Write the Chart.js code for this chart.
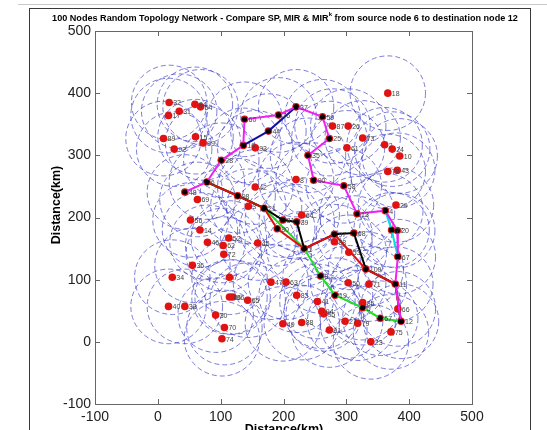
<!DOCTYPE html>
<html>
<head>
<meta charset="utf-8">
<script src="https://cdn.jsdelivr.net/npm/chart.js@4.4.0/dist/chart.umd.min.js"></script>
<style>
html, body { margin: 0; padding: 0; background: #fff; }
</style>
</head>
<body>
<canvas id="myChart" width="547" height="430"></canvas>
<script>
// node ids and positions (km)
const nodeIds = [32, 84, 54, 17, 31, 89, 15, 99, 92, 60, 76, 44, 16, 93, 28, 6, 48, 42, 69, 98,
  3, 21, 81, 39, 80, 56, 14, 46, 52, 62, 72, 45, 36, 34, 7, 47, 63, 40, 33, 86,
  96, 65, 30, 49, 70, 74, 83, 41, 94, 95, 85, 88, 27, 79, 91, 75, 23, 12, 66, 11,
  67, 71, 50, 9, 19, 5, 57, 1, 8, 90, 58, 13, 4, 20, 77, 29, 97, 68, 100, 53,
  38, 18, 37, 59, 87, 26, 25, 73, 61, 2, 24, 10, 35, 78, 43, 64];
const nodeX = [18, 59, 68, 17, 34, 9, 60, 72, 26, 138, 192, 176, 136, 155, 101, 78, 43, 155, 63, 127,
  144, 169, 199, 221, 190, 52, 67, 79, 113, 104, 105, 159, 55, 23, 114, 180, 204, 17, 43, 114,
  119, 143, 92, 199, 106, 102, 221, 254, 261, 264, 326, 229, 298, 318, 273, 371, 339, 387, 382, 378,
  382, 336, 303, 259, 282, 326, 354, 233, 220, 248, 296, 317, 362, 381, 372, 379, 281, 312, 331, 304,
  281, 366, 220, 262, 278, 303, 273, 326, 301, 361, 373, 385, 239, 366, 381, 229];
const nodeY = [385, 382, 378, 364, 371, 327, 330, 320, 310, 358, 365, 339, 316, 312, 292, 257, 241, 249, 229, 235,
  218, 215, 196, 193, 182, 196, 180, 160, 167, 155, 141, 159, 123, 104, 104, 96, 96, 57, 57, 72,
  72, 67, 43, 29, 23, 5, 75, 65, 49, 45, 63, 31, 33, 30, 19, 16, 0, 33, 53, 93,
  137, 93, 95, 106, 75, 55, 38, 150, 261, 260, 251, 206, 211, 179, 180, 220, 173, 175, 117, 144,
  161, 400, 378, 362, 347, 347, 327, 328, 312, 317, 310, 299, 300, 274, 276, 204];
const radioRange = 60;

// routes as node id lists
const pathGreen = [6, 98, 21, 1, 9, 19, 5, 57, 12];
const pathRed = [6, 98, 21, 80, 1, 97, 100, 11, 12];
const pathBlack = [6, 98, 21, 81, 39, 1, 97, 68, 100, 11, 12];
const pathCyan = [4, 77, 67];
const pathBlue = [16, 44, 37];
const pathMagenta = [48, 6, 28, 16, 60, 76, 37, 59, 25, 35, 90, 58, 13, 4, 20, 67, 11, 12];

const tickValues = [-100, 0, 100, 200, 300, 400, 500];

const FONT = '"Liberation Sans", Arial, sans-serif';

function pts(ids) {
  return ids.map(id => {
    const i = nodeIds.indexOf(id);
    return { x: nodeX[i], y: nodeY[i] };
  });
}

function route(ids, color, order) {
  return {
    type: 'line',
    data: pts(ids),
    borderColor: color,
    borderWidth: 2,
    pointRadius: 2.6,
    pointBackgroundColor: '#000',
    pointBorderColor: '#000',
    pointBorderWidth: 0,
    tension: 0,
    order: order
  };
}

const circles = {
  id: 'circles',
  beforeDatasetsDraw(chart) {
    const c = chart.ctx, xs = chart.scales.x, ys = chart.scales.y;
    c.save();
    c.setLineDash([5, 3]);
    c.strokeStyle = 'rgba(60, 60, 200, 0.75)';
    c.lineWidth = 0.9;
    for (let i = 0; i < nodeIds.length; i++) {
      const cx = xs.getPixelForValue(nodeX[i]);
      const cy = ys.getPixelForValue(nodeY[i]);
      const rx = xs.getPixelForValue(nodeX[i] + radioRange) - cx;
      const ry = cy - ys.getPixelForValue(nodeY[i] + radioRange);
      c.beginPath();
      c.ellipse(cx, cy, rx, ry, 0, 0, Math.PI * 2);
      c.stroke();
    }
    c.restore();
  }
};

const decor = {
  id: 'decor',
  afterDatasetsDraw(chart) {
    const c = chart.ctx, xs = chart.scales.x, ys = chart.scales.y;
    c.save();
    c.font = '7px ' + FONT;
    c.fillStyle = '#444';
    c.textBaseline = 'middle';
    for (let i = 0; i < nodeIds.length; i++) {
      c.fillText(String(nodeIds[i]), xs.getPixelForValue(nodeX[i]) + 4, ys.getPixelForValue(nodeY[i]) + 1);
    }
    c.restore();
  },
  afterDraw(chart) {
    const c = chart.ctx, a = chart.chartArea, xs = chart.scales.x, ys = chart.scales.y;
    c.save();
    // page rules
    c.strokeStyle = '#c8c8c8';
    c.lineWidth = 1;
    c.beginPath(); c.moveTo(18, 4.5); c.lineTo(547, 4.5); c.stroke();
    c.strokeStyle = '#3a3a3a';
    c.strokeRect(29.5, 8.5, 501, 440);
    // axes box + inward ticks
    c.strokeStyle = '#666';
    c.strokeRect(a.left + 0.5, a.top + 0.5, a.right - a.left, a.bottom - a.top);
    c.beginPath();
    tickValues.forEach(v => {
      const px = Math.round(xs.getPixelForValue(v)) + 0.5;
      c.moveTo(px, a.bottom); c.lineTo(px, a.bottom - 5);
      c.moveTo(px, a.top); c.lineTo(px, a.top + 5);
      const py = Math.round(ys.getPixelForValue(v)) + 0.5;
      c.moveTo(a.left, py); c.lineTo(a.left + 5, py);
      c.moveTo(a.right, py); c.lineTo(a.right - 5, py);
    });
    c.stroke();
    // title with superscript k
    c.fillStyle = '#000';
    c.textBaseline = 'alphabetic';
    const t1 = '100 Nodes Random Topology Network - Compare SP, MIR & MIR';
    const t2 = ' from source node 6 to destination node 12';
    c.font = 'bold 9.1px ' + FONT;
    const w1 = c.measureText(t1).width, w3 = c.measureText(t2).width;
    c.font = 'bold 6px ' + FONT;
    const w2 = c.measureText('k').width;
    let x0 = 285 - (w1 + w2 + w3) / 2;
    c.font = 'bold 9.1px ' + FONT;
    c.fillText(t1, x0, 21);
    c.font = 'bold 6px ' + FONT;
    c.fillText('k', x0 + w1, 16);
    c.font = 'bold 9.1px ' + FONT;
    c.fillText(t2, x0 + w1 + w2, 21);
    // axis titles
    c.font = 'bold 12.5px ' + FONT;
    c.textAlign = 'center';
    c.textBaseline = 'top';
    c.fillText('Distance(km)', 284, 423);
    c.translate(57, 205);
    c.rotate(-Math.PI / 2);
    c.textBaseline = 'middle';
    c.fillText('Distance(km)', 0, 0);
    c.restore();
  }
};

const myChart = new Chart(document.getElementById('myChart').getContext('2d'), {
  type: 'scatter',
  data: {
    datasets: [
      {
        data: nodeIds.map((id, i) => ({ x: nodeX[i], y: nodeY[i] })),
        pointRadius: 3.8,
        pointBackgroundColor: '#e01212',
        pointBorderWidth: 0,
        order: 10
      },
      route(pathGreen, '#22dd22', 6),
      route(pathBlack, '#000000', 5),
      route(pathRed, '#e01010', 4),
      route(pathCyan, '#00e0e0', 3),
      route(pathBlue, '#1010a0', 2),
      route(pathMagenta, '#f020f0', 1)
    ]
  },
  options: {
    responsive: false,
    animation: false,
    layout: { padding: { top: 31, right: 75, bottom: 0, left: 0 } },
    plugins: { legend: { display: false }, tooltip: { enabled: false } },
    scales: {
      x: {
        min: -100, max: 500,
        afterFit: s => { s.height = 26; },
        grid: { display: false, drawTicks: false, tickLength: 0 },
        border: { display: false },
        ticks: { stepSize: 100, padding: 5, color: '#222', font: { family: FONT, size: 14 }, maxRotation: 0 }
      },
      y: {
        min: -100, max: 500,
        afterFit: s => { s.width = 95; },
        grid: { display: false, drawTicks: false, tickLength: 0 },
        border: { display: false },
        ticks: { stepSize: 100, padding: 4, color: '#222', font: { family: FONT, size: 14 } }
      }
    }
  },
  plugins: [circles, decor]
});
</script>
</body>
</html>
